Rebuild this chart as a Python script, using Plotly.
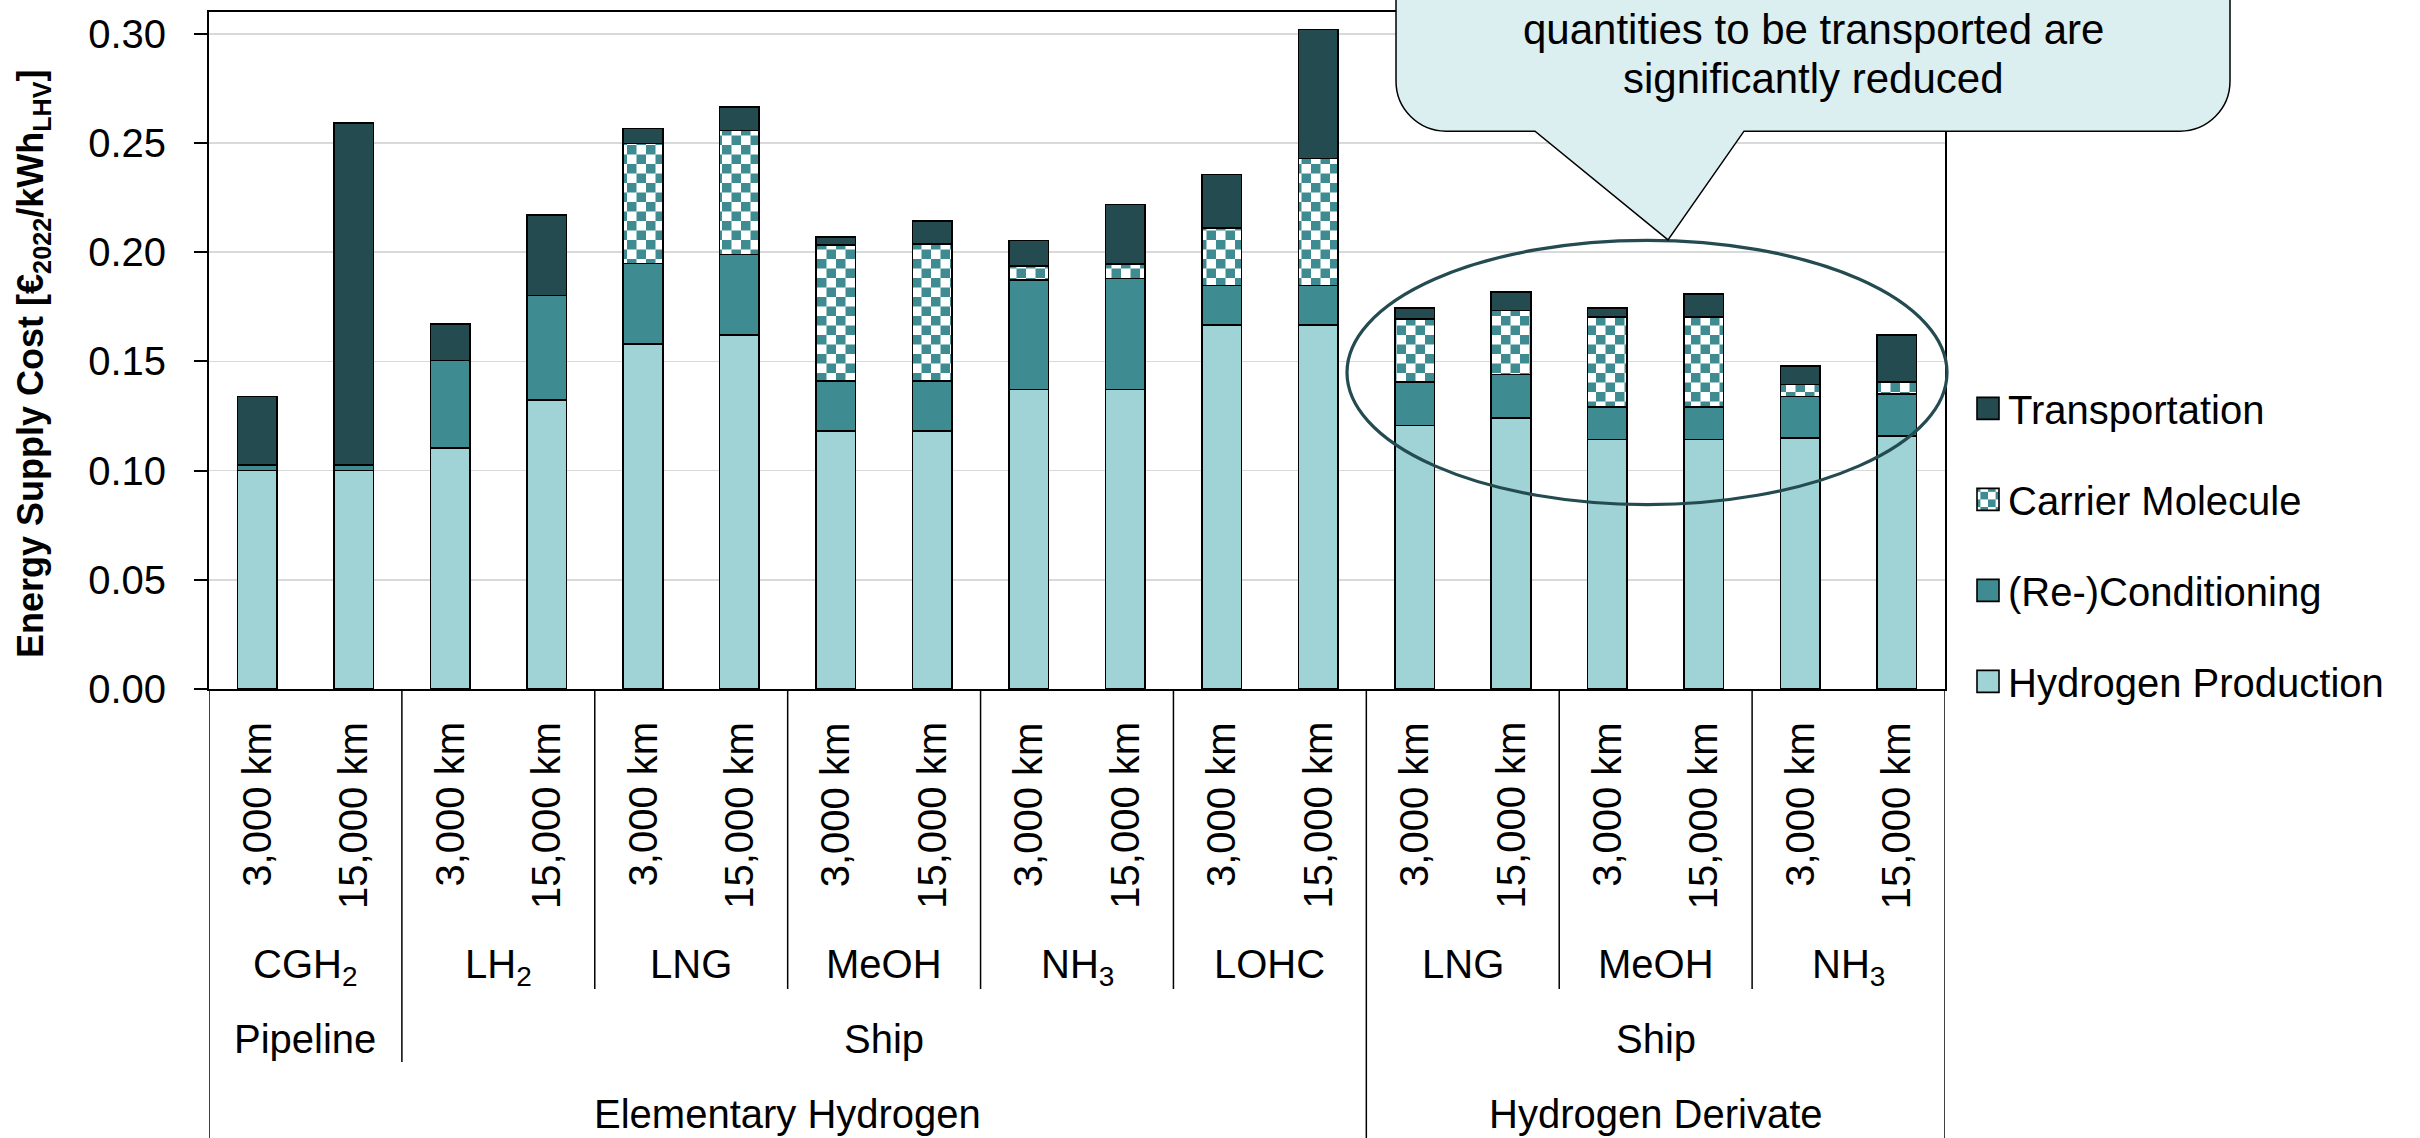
import plotly.graph_objects as go

# ---------------- data ----------------
distances = ["3,000 km", "15,000 km"] * 9
carriers = ["CGH<sub>2</sub>", "LH<sub>2</sub>", "LNG", "MeOH", "NH<sub>3</sub>", "LOHC",
            "LNG", "MeOH", "NH<sub>3</sub>"]
mode_labels = ["Pipeline", "Ship", "Ship"]
mode_spans = [2, 10, 6]
form_labels = ["Elementary Hydrogen", "Hydrogen Derivate"]
form_spans = [12, 6]

hydrogen_production = [0.100, 0.100, 0.1103, 0.1324, 0.1579, 0.1620, 0.1181, 0.1181, 0.1371,
                       0.1371, 0.1666, 0.1666, 0.1207, 0.1240, 0.1142, 0.1142, 0.1150, 0.1158]
reconditioning = [0.0026, 0.0026, 0.0402, 0.0477, 0.0369, 0.0369, 0.0230, 0.0230, 0.0501,
                  0.0509, 0.0181, 0.0181, 0.0200, 0.0200, 0.0149, 0.0149, 0.0190, 0.0194]
carrier_molecule = [None, None, None, None, 0.0550, 0.0569, 0.0622, 0.0626, 0.0065,
                    0.0065, 0.0263, 0.0583, 0.0288, 0.0294, 0.0412, 0.0412, 0.0055, 0.0055]
transportation = [0.0314, 0.1566, 0.0167, 0.0369, 0.0068, 0.0106, 0.0036, 0.0106, 0.0116,
                  0.0273, 0.0246, 0.0590, 0.0049, 0.0083, 0.0041, 0.0106, 0.0085, 0.0214]

# ---------------- layout constants ----------------
W, H = 2420, 1138
L, T = 209, 10
PW, PH = 1736, 679
FONT = "Liberation Sans, Arial, sans-serif"
C_LIGHT = "#a0d3d6"
C_MID = "#3e8c92"
C_DARK = "#234b50"


def px(X):
    return (X - L) / PW


def py(Y):
    return (T + PH - Y) / PH


xs = list(range(len(distances)))
line = dict(color="black", width=1.6)
BW = 0.41

fig = go.Figure()
fig.add_trace(go.Bar(x=xs, y=hydrogen_production, name="Hydrogen Production", width=BW,
                     marker=dict(color=C_LIGHT, line=line), legendgroup="a", legendrank=4))
fig.add_trace(go.Bar(x=xs, y=reconditioning, name="(Re-)Conditioning", width=BW,
                     marker=dict(color=C_MID, line=line), legendgroup="b", legendrank=3))
fig.add_trace(go.Bar(x=xs, y=carrier_molecule, name="Carrier Molecule", width=BW,
                     marker=dict(color=C_MID, line=line,
                                 pattern=dict(shape="+", fillmode="replace", bgcolor="white",
                                              fgcolor=C_MID, size=10, solidity=0.5)),
                     legendgroup="c", legendrank=2))
fig.add_trace(go.Bar(x=xs, y=transportation, name="Transportation", width=BW,
                     marker=dict(color=C_DARK, line=line), legendgroup="d", legendrank=1))

annotations = []
shapes = []

# distance labels (rotated)
for i, d in enumerate(distances):
    annotations.append(dict(x=i, xref="x", y=py(720), yref="paper", text=d, textangle=-90,
                            showarrow=False, xanchor="center", yanchor="top",
                            font=dict(size=40, color="black", family=FONT)))

# carrier labels
pos = -0.5
for c in carriers:
    annotations.append(dict(x=pos + 1.0, xref="x", y=py(940.5), yref="paper", text=c,
                            showarrow=False, xanchor="center", yanchor="top",
                            font=dict(size=40, color="black", family=FONT)))
    pos += 2

# mode labels
pos = -0.5
mode_bounds = []
for lab, sp in zip(mode_labels, mode_spans):
    annotations.append(dict(x=pos + sp / 2, xref="x", y=py(1016), yref="paper", text=lab,
                            showarrow=False, xanchor="center", yanchor="top",
                            font=dict(size=40, color="black", family=FONT)))
    pos += sp
    mode_bounds.append(pos)

# form labels
pos = -0.5
form_bounds = [pos]
for lab, sp in zip(form_labels, form_spans):
    annotations.append(dict(x=pos + sp / 2, xref="x", y=py(1091), yref="paper", text=lab,
                            showarrow=False, xanchor="center", yanchor="top",
                            font=dict(size=40, color="black", family=FONT)))
    pos += sp
    form_bounds.append(pos)

# separator lines
carrier_bounds = [-0.5 + 2 * (k + 1) for k in range(len(carriers) - 1)]
for b in carrier_bounds:
    if b in form_bounds:
        continue
    end = 1063 if b in mode_bounds else 990
    shapes.append(dict(type="line", xref="x", yref="paper", x0=b, x1=b, y0=0, y1=py(end),
                       line=dict(color="black", width=1.5)))
for b in form_bounds:
    shapes.append(dict(type="line", xref="x", yref="paper", x0=b, x1=b, y0=0, y1=py(1160),
                       line=dict(color="black", width=1.5)))

# y axis title
annotations.append(dict(x=px(33), xref="paper", y=py(363), yref="paper",
                        text="<b>Energy Supply Cost [€<sub>2022</sub>/kWh<sub>LHV</sub>]</b>",
                        textangle=-90, showarrow=False, xanchor="center", yanchor="middle",
                        font=dict(size=36, color="black", family=FONT)))

# ellipse highlight
shapes.append(dict(type="circle", xref="paper", yref="paper", x0=px(1347), x1=px(1947),
                   y0=py(504), y1=py(239), line=dict(color=C_DARK, width=3.2), layer="above"))

# callout
cl, cr, cb, ct, r = 1396, 2230, 129.5, -150, 50
k = 0.552 * r
pts = [("M", cl, ct), ("L", cl, cb - r),
       ("C", cl, cb - r + k, cl + r - k, cb, cl + r, cb),
       ("L", 1535, cb), ("L", 1668, 238.5), ("L", 1744, cb), ("L", cr - r, cb),
       ("C", cr - r + k, cb, cr, cb - r + k, cr, cb - r), ("L", cr, ct)]
path = ""
for p in pts:
    cmd = p[0]
    vals = p[1:]
    coords = []
    for j in range(0, len(vals), 2):
        coords.append(f"{px(vals[j]):.5f},{py(vals[j + 1]):.5f}")
    path += cmd + " ".join(coords) + " "
path += "Z"
shapes.append(dict(type="path", xref="paper", yref="paper", path=path,
                   fillcolor="#dbeef0", line=dict(color="black", width=1.5), layer="above"))
annotations.append(dict(x=px(1813), xref="paper", y=py(27.8), yref="paper",
                        text="quantities to be transported are", showarrow=False,
                        xanchor="center", yanchor="middle",
                        font=dict(size=42, color="black", family=FONT)))
annotations.append(dict(x=px(1813), xref="paper", y=py(76.5), yref="paper",
                        text="significantly reduced", showarrow=False,
                        xanchor="center", yanchor="middle",
                        font=dict(size=42, color="black", family=FONT)))

fig.update_layout(
    width=W, height=H,
    margin=dict(l=L, r=W - L - PW, t=T, b=H - T - PH, pad=0),
    paper_bgcolor="white", plot_bgcolor="white",
    barmode="stack", bargap=0.5,
    font=dict(family=FONT, size=40, color="black"),
    xaxis=dict(range=[-0.5, len(distances) - 0.5], showticklabels=False, ticks="",
               showgrid=False, zeroline=False, showline=True, linecolor="black",
               linewidth=2, mirror=True, fixedrange=True),
    yaxis=dict(range=[0, 0.31], dtick=0.05, tick0=0, tickformat=".2f", showgrid=True,
               gridcolor="#d9d9d9", gridwidth=1.5, zeroline=False, showline=True,
               linecolor="black", linewidth=2, mirror=True, ticks="outside", ticklen=13,
               tickwidth=2, tickcolor="black", ticklabelstandoff=20,
               tickfont=dict(size=40, family=FONT, color="black"), fixedrange=True),
    legend=dict(x=px(1968), y=py(375), xanchor="left", yanchor="top",
                traceorder="grouped", tracegroupgap=36,
                font=dict(size=40, family=FONT, color="black"),
                bgcolor="rgba(0,0,0,0)", borderwidth=0, itemclick=False,
                itemdoubleclick=False),
    annotations=annotations,
    shapes=shapes,
    showlegend=True,
)

post = """
document.documentElement.style.margin = '0px';
document.body.style.margin = '0px';
document.body.style.overflow = 'hidden';
var gd = document.getElementById('{plot_id}');
var ns = 'http://www.w3.org/2000/svg';
var c = 9.5;
gd.querySelectorAll('pattern').forEach(function(p){
  while (p.firstChild) { p.removeChild(p.firstChild); }
  p.setAttribute('width', (2*c) + 'px');
  p.setAttribute('height', (2*c) + 'px');
  var bg = document.createElementNS(ns, 'rect');
  bg.setAttribute('width', 2*c); bg.setAttribute('height', 2*c);
  bg.setAttribute('fill', '#ffffff');
  p.appendChild(bg);
  [[0,0],[c,c]].forEach(function(o){
    var q = document.createElementNS(ns, 'rect');
    q.setAttribute('x', o[0]); q.setAttribute('y', o[1]);
    q.setAttribute('width', c); q.setAttribute('height', c);
    q.setAttribute('fill', '#3e8c92');
    p.appendChild(q);
  });
});
gd.querySelectorAll('.legend .legendpoints path').forEach(function(el){
  el.setAttribute('d', 'M11,11H-11V-11H11Z');
});
"""

fig.write_html("out.html", post_script=post, config={"staticPlot": True})
